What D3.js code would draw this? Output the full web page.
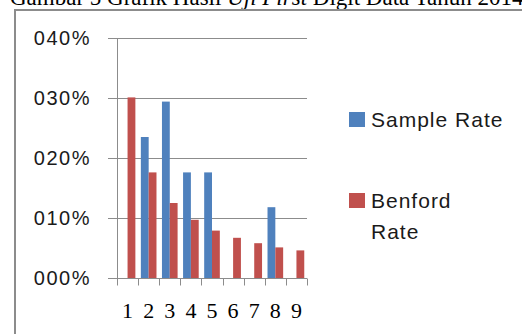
<!DOCTYPE html>
<html>
<head>
<meta charset="utf-8">
<script src="https://cdn.jsdelivr.net/npm/d3@7"></script>
<style>
  body { margin: 0; background: #fff; }
  svg { display: block; }
</style>
</head>
<body>
<div id="chart"></div>
<script>
var digits = ["1", "2", "3", "4", "5", "6", "7", "8", "9"];
var sampleRate = [0, 0.235, 0.294, 0.176, 0.176, 0, 0, 0.118, 0];
var benfordRate = [0.301, 0.176, 0.125, 0.097, 0.079, 0.067, 0.058, 0.051, 0.046];
var yTicks = [0, 0.1, 0.2, 0.3, 0.4];
var yTickLabels = ["000%", "010%", "020%", "030%", "040%"];
var seriesNames = ["Sample Rate", "Benford Rate"];
var seriesColors = ["#4f81bd", "#c0504d"];

var width = 522, height = 334;
var svg = d3.select("#chart").append("svg")
    .attr("width", width)
    .attr("height", height);

// caption of the page, clipped at the top like the scan
var cap = svg.append("text")
    .attr("x", 10)
    .attr("y", 5)
    .style("font-family", "'Liberation Serif', serif")
    .style("font-size", "23px")
    .attr("fill", "#000");
cap.append("tspan").text("Gambar 5 Grafik Hasil ");
cap.append("tspan").style("font-style", "italic").text("Uji First");
cap.append("tspan").text(" Digit Data Tahun 2014");

// frame
svg.append("path")
    .attr("d", "M15,334 V10 H522")
    .attr("fill", "none")
    .attr("stroke", "#8c8c8c")
    .attr("stroke-width", 2);

var x0 = 117, x1 = 307, yTop = 38, yBot = 278;

var x = d3.scaleBand().domain(digits).range([x0, x1]);
var y = d3.scaleLinear().domain([0, 0.4]).range([yBot, yTop]);
var xs = d3.scaleBand().domain(seriesNames).range([0, x.bandwidth()]).paddingInner(0).paddingOuter(0.35);

var g = svg.append("g");

// gridlines
g.selectAll("line.grid").data(yTicks).enter().append("line")
    .attr("x1", 108).attr("x2", x1)
    .attr("y1", function(d) { return Math.round(y(d)) + 0.5; })
    .attr("y2", function(d) { return Math.round(y(d)) + 0.5; })
    .attr("stroke", "#8c8c8c");

// y axis line
g.append("line")
    .attr("x1", x0 + 0.5).attr("x2", x0 + 0.5)
    .attr("y1", yTop).attr("y2", yBot + 7)
    .attr("stroke", "#8c8c8c");

// x ticks at band edges
var xAxisG = g.append("g").attr("transform", "translate(0," + (yBot + 0.5) + ")");
xAxisG.selectAll("line.tk").data(d3.range(digits.length + 1)).enter().append("line")
    .attr("x1", function(i) { return Math.round(x0 + i * x.step()) + 0.5; })
    .attr("x2", function(i) { return Math.round(x0 + i * x.step()) + 0.5; })
    .attr("y1", 0).attr("y2", 7)
    .attr("stroke", "#8c8c8c");

// y labels
g.selectAll("text.ylab").data(yTicks).enter().append("text")
    .attr("x", 91)
    .attr("y", function(d) { return y(d) + 7; })
    .attr("text-anchor", "end")
    .style("font-family", "'Liberation Sans', Arial, sans-serif")
    .style("font-size", "20px")
    .style("letter-spacing", "1.5px")
    .attr("fill", "#1a1a1a")
    .text(function(d, i) { return yTickLabels[i]; });

// x labels
g.selectAll("text.xlab").data(digits).enter().append("text")
    .attr("x", function(d) { return x(d) + x.bandwidth() / 2; })
    .attr("y", 318)
    .attr("text-anchor", "middle")
    .style("font-family", "'Liberation Serif', serif")
    .style("font-size", "22px")
    .attr("fill", "#000")
    .text(function(d) { return d; });

// bars
var series = [sampleRate, benfordRate];
series.forEach(function(vals, si) {
    g.selectAll("rect.s" + si).data(vals).enter().append("rect")
        .attr("x", function(d, i) { return x(digits[i]) + xs(seriesNames[si]); })
        .attr("width", xs.bandwidth())
        .attr("y", function(d) { return y(d); })
        .attr("height", function(d) { return yBot - y(d); })
        .attr("fill", seriesColors[si]);
});

// legend
var legend = svg.append("g");
var legendY = [112, 193];
seriesNames.forEach(function(name, i) {
    legend.append("rect")
        .attr("x", 349).attr("y", legendY[i])
        .attr("width", 16).attr("height", 15)
        .attr("fill", seriesColors[i]);
});
legend.append("text")
    .attr("x", 371).attr("y", 127)
    .style("font-family", "'Liberation Sans', Arial, sans-serif")
    .style("font-size", "21px")
    .style("letter-spacing", "1px")
    .attr("fill", "#1a1a1a")
    .text("Sample Rate");
var lt2 = legend.append("text")
    .attr("x", 371).attr("y", 208)
    .style("font-family", "'Liberation Sans', Arial, sans-serif")
    .style("font-size", "21px")
    .style("letter-spacing", "1px")
    .attr("fill", "#1a1a1a");
lt2.append("tspan").attr("x", 371).text("Benford");
lt2.append("tspan").attr("x", 371).attr("dy", 31).text("Rate");
</script>
</body>
</html>
